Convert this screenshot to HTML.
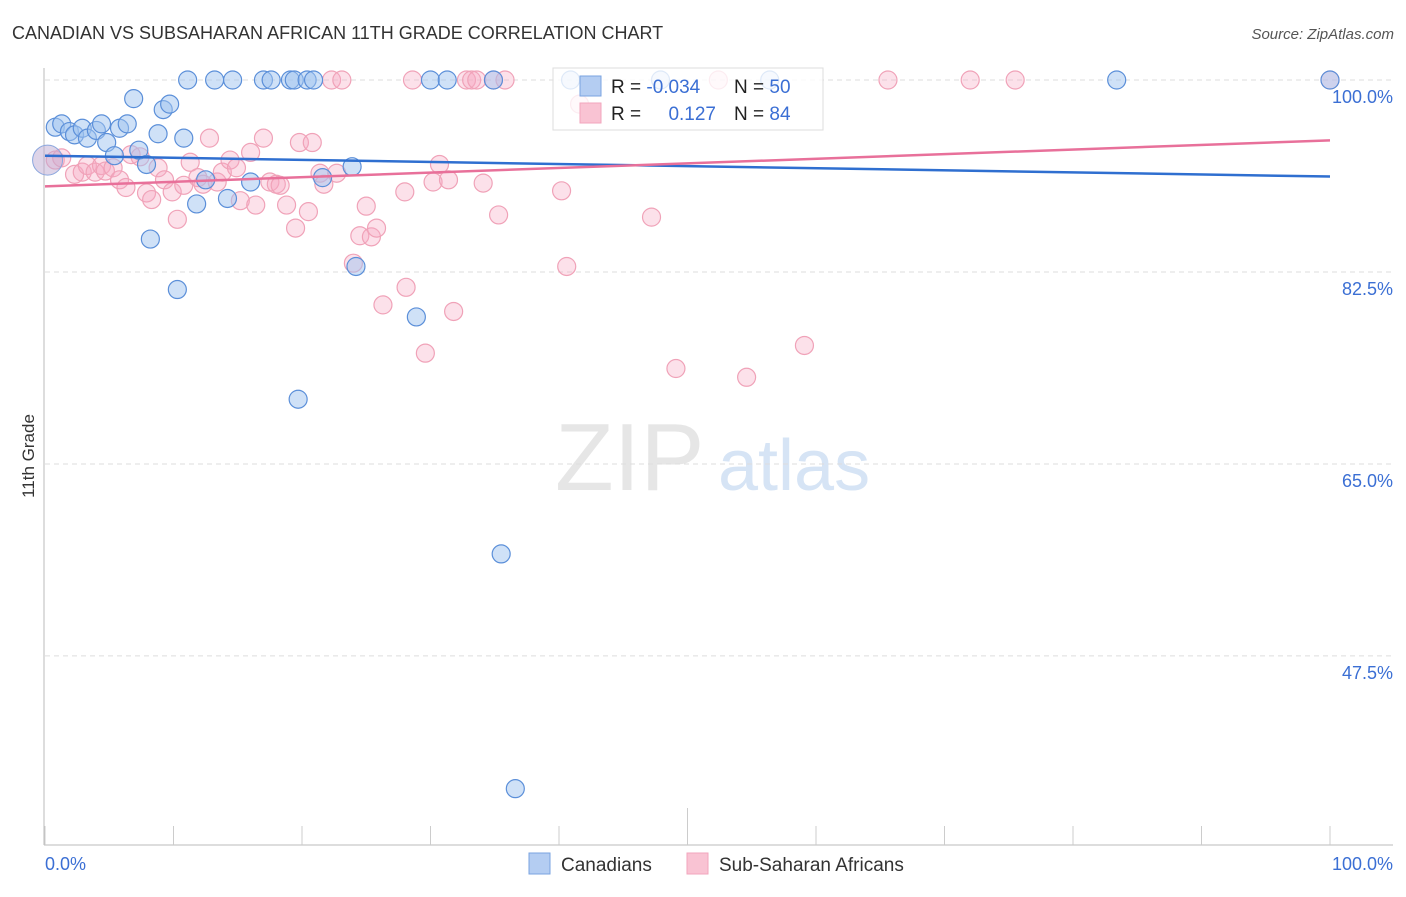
<!DOCTYPE html>
<html><head><meta charset="utf-8"><style>
body{margin:0;background:#fff;font-family:"Liberation Sans",sans-serif}
svg text{font-family:"Liberation Sans",sans-serif}
</style></head><body>
<svg width="1406" height="892" viewBox="0 0 1406 892">
<text x="12" y="39" font-size="18" fill="#333">CANADIAN VS SUBSAHARAN AFRICAN 11TH GRADE CORRELATION CHART</text>
<text x="1394" y="39" font-size="15" fill="#555" font-style="italic" text-anchor="end">Source: ZipAtlas.com</text>
<text x="34" y="456" font-size="17" fill="#333" transform="rotate(-90 34 456)" text-anchor="middle">11th Grade</text>
<g><text x="555" y="490" font-size="96" fill="#e6e6e6" font-family="Liberation Serif">ZIP</text><text x="718" y="490" font-size="72" fill="#d6e4f5">atlas</text></g>
<g id="grid"></g>
<g id="axes"></g>
<g id="pts"></g>
<g id="trends"></g>
<g>
<rect x="553" y="68" width="270" height="62" fill="rgba(255,255,255,0.8)" stroke="#ddd"/>
<rect x="580" y="76" width="21" height="20" fill="#b4cdf2" stroke="#7aa3e0"/>
<rect x="580" y="103" width="21" height="20" fill="#f9c3d3" stroke="#f2a6bd"/>
<text x="611" y="93" font-size="19" fill="#222">R = <tspan fill="#3b6fd4">-0.034</tspan></text>
<text x="734" y="93" font-size="19" fill="#222">N = <tspan fill="#3b6fd4">50</tspan></text>
<text x="611" y="120" font-size="19" fill="#222">R = </text><text x="716" y="120" font-size="19" fill="#3b6fd4" text-anchor="end">0.127</text>
<text x="734" y="120" font-size="19" fill="#222">N = <tspan fill="#3b6fd4">84</tspan></text>
</g>
<g>
<rect x="529" y="853" width="21" height="21" fill="#b4cdf2" stroke="#7aa3e0"/>
<text x="561" y="871" font-size="19" fill="#333">Canadians</text>
<rect x="687" y="853" width="21" height="21" fill="#f9c3d3" stroke="#f2a6bd"/>
<text x="719" y="871" font-size="19" fill="#333">Sub-Saharan Africans</text>
</g>
</svg>
<script>
const yTicks=[100,82.5,65,47.5];
const yTickLabels=["100.0%","82.5%","65.0%","47.5%"];
const xLabels=["0.0%","100.0%"];
const blueX=[11.1,13.2,14.6,17.0,17.6,19.1,19.4,20.4,20.9,30.0,31.3,34.9,40.9,47.9,56.4,83.4,100,0.8,1.3,1.9,2.3,2.9,3.3,4.0,4.4,4.8,5.4,5.8,6.4,6.9,7.3,7.9,8.2,8.8,9.2,9.7,10.3,10.8,11.8,12.5,14.2,16.0,19.7,21.6,23.9,24.2,28.9,35.5,36.6];
const blueY=[100,100,100,100,100,100,100,100,100,100,100,100,100,100,100,100,100,95.7,96.0,95.3,95.0,95.6,94.7,95.4,96.0,94.3,93.1,95.6,96.0,98.3,93.6,92.3,85.5,95.1,97.3,97.8,80.9,94.7,88.7,90.9,89.2,90.7,70.9,91.1,92.1,83.0,78.4,56.8,35.4];
const pinkX=[22.3,23.1,28.6,32.8,33.2,33.6,34.9,35.8,52.4,65.6,72.0,75.5,100,41.6,0.8,1.3,2.3,2.9,3.3,3.9,4.4,4.7,5.3,5.8,6.3,6.7,7.4,7.9,8.3,8.8,9.3,9.9,10.3,10.8,11.3,11.9,12.3,12.8,13.4,13.8,14.4,14.9,15.2,16.0,16.4,17.0,17.5,18.0,18.3,18.8,19.5,19.8,20.5,20.8,21.4,21.7,22.7,24.5,25.0,25.4,25.8,26.3,24.0,28.0,28.1,29.6,30.2,30.7,31.4,31.8,34.1,35.3,40.2,40.6,47.2,49.1,54.6,59.1];
const pinkY=[100,100,100,100,100,100,100,100,100,100,100,100,100,97.8,92.7,92.9,91.4,91.6,92.2,91.6,92.2,91.7,92.0,90.9,90.2,93.2,93.0,89.7,89.1,92.0,90.9,89.8,87.3,90.4,92.5,91.1,90.5,94.7,90.7,91.6,92.7,92.0,89.0,93.4,88.6,94.7,90.7,90.5,90.4,88.6,86.5,94.3,88.0,94.3,91.5,90.5,91.5,85.8,88.5,85.7,86.5,79.5,83.3,89.8,81.1,75.1,90.7,92.3,90.9,78.9,90.6,87.7,89.9,83.0,87.5,73.7,72.9,75.8];
const blueTrend=[93.1,91.2];
const pinkTrend=[90.3,94.5];
const ns="http://www.w3.org/2000/svg";
const X0=45,X1=1330;
function sx(v){return X0+(X1-X0)*v/100;}
function sy(v){return 80+(100-v)*10.97;}
function mk(t,a,p){const e=document.createElementNS(ns,t);for(const k in a)e.setAttribute(k,a[k]);p.appendChild(e);return e;}
const grid=document.getElementById('grid');
yTicks.forEach((v,i)=>{
 const l=mk('line',{x1:45,x2:1393,y1:sy(v),y2:sy(v),stroke:'#ddd','stroke-dasharray':'5,4'},grid);
 
 
 const t=mk('text',{x:1393,y:sy(v)+23,'font-size':18,fill:'#3b6fd4','text-anchor':'end'},grid);
 t.textContent=yTickLabels[i];
 
 
});
const ax=document.getElementById('axes');
mk('line',{x1:44,x2:44,y1:68,y2:845,stroke:'#bbb'},ax);
mk('line',{x1:44,x2:1393,y1:845,y2:845,stroke:'#bbb'},ax);
for(let i=0;i<=10;i++){
 const tk=mk('line',{x1:sx(i*10),x2:sx(i*10),y1:(i==5?808:826),y2:845,stroke:'#ccc'},ax);
 
 
}
const xl0=mk('text',{x:45,y:870,'font-size':18,fill:'#3b6fd4'},ax);xl0.textContent=xLabels[0];


const xl1=mk('text',{x:1393,y:870,'font-size':18,fill:'#3b6fd4','text-anchor':'end'},ax);xl1.textContent=xLabels[1];


const pts=document.getElementById('pts');
pinkX.forEach((v,i)=>{
 const c=mk('circle',{cx:sx(v),cy:sy(pinkY[i]),r:9,fill:'rgba(246,170,195,0.35)',stroke:'#f0a2b8','stroke-width':1.2},pts);
 
 
});
blueX.forEach((v,i)=>{
 const c=mk('circle',{cx:sx(v),cy:sy(blueY[i]),r:9,fill:'rgba(160,196,240,0.5)',stroke:'#5b8fd9','stroke-width':1.2},pts);
 
 
});
const big=mk('circle',{cx:sx(0.2),cy:sy(92.7),r:15,fill:'rgba(190,170,210,0.5)',stroke:'#8aa6dd'},pts);


const tr=document.getElementById('trends');
const bl=mk('line',{x1:sx(0),x2:sx(100),y1:sy(blueTrend[0]),y2:sy(blueTrend[1]),stroke:'#2f6fd0','stroke-width':2.5},tr);


const pl=mk('line',{x1:sx(0),x2:sx(100),y1:sy(pinkTrend[0]),y2:sy(pinkTrend[1]),stroke:'#e8709a','stroke-width':2.5},tr);


</script>
</body></html>
